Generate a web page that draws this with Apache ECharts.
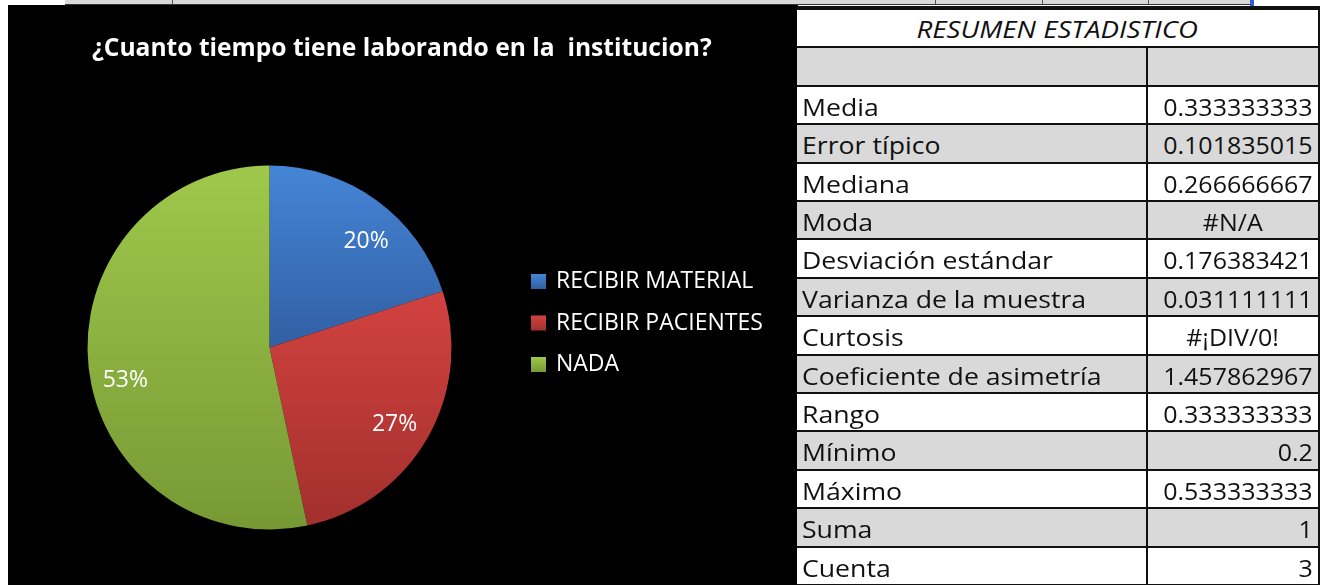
<!doctype html>
<html lang="es">
<head>
<meta charset="UTF-8">
<title>¿Cuanto tiempo tiene laborando en la institucion?</title>
<script src="https://cdn.jsdelivr.net/npm/echarts@6/dist/echarts.min.js"></script>
<style>
    html, body { margin: 0; padding: 0; background: #fff; width: 1324px; height: 585px; overflow: hidden; }
    #strip { position: absolute; left: 65px; top: 0; width: 1188px; height: 4px; background: #d9d9d9; border-bottom: 1px solid #333; }
    .sep { position: absolute; top: 0; width: 1px; height: 4px; background: #555; }
    #mark { position: absolute; left: 1250px; top: 0; width: 4px; height: 8px; background: #3a5bc7; }
    #main { position: absolute; left: 8px; top: 5px; width: 790px; height: 580px; }
    #topline { position: absolute; left: 797px; top: 6px; width: 523px; height: 4px; background: #111; }
    .row { position: absolute; left: 797px; width: 523px; height: 38.4px; box-sizing: border-box;
           border-bottom: 2px solid #111; border-right: 2px solid #111;
           font-family: "Open Sans", sans-serif; font-size: 24px; color: #111; line-height: 38px; white-space: nowrap; }
    .row.gris { background: #d9d9d9; }
    .row.blanco { background: #fff; }
    .lab { position: absolute; left: 5px; top: 1px; transform: scaleX(1.11); transform-origin: left center; }
    .val { position: absolute; left: 349px; top: 0; width: 172px; height: 100%; box-sizing: border-box;
           border-left: 2px solid #111; padding-right: 5px; text-align: right; }
    .val span { position: relative; top: 1px; display: inline-block; transform: scaleX(1.04); transform-origin: right center; }
    .val.err { text-align: center; padding-right: 0; }
    .val.err span { transform-origin: center center; }
    .head { text-align: center; font-style: italic; font-size: 23px; }
    .head span { display: inline-block; transform: scaleX(1.2); }
</style>
</head>
<body>
<div id="strip"></div>
<div id="mark"></div>
<div id="main"></div>
<div id="topline"></div>
<div id="stats"></div>
<script type="text/javascript">
    // datos del grafico
    var categorias = ['RECIBIR MATERIAL', 'RECIBIR PACIENTES', 'NADA'];
    var valores = [0.2, 0.266666667, 0.533333333];
    var coloresArriba = ['#4585d6', '#d2423f', '#9fc84b'];
    var coloresAbajo = ['#315fa3', '#a2302d', '#779935'];

    // resumen estadistico
    var tituloTabla = 'RESUMEN ESTADISTICO';
    var estadisticos = ['', 'Media', 'Error típico', 'Mediana', 'Moda', 'Desviación estándar',
        'Varianza de la muestra', 'Curtosis', 'Coeficiente de asimetría', 'Rango', 'Mínimo',
        'Máximo', 'Suma', 'Cuenta'];
    var valoresEst = ['', '0.333333333', '0.101835015', '0.266666667', '#N/A', '0.176383421',
        '0.031111111', '#¡DIV/0!', '1.457862967', '0.333333333', '0.2',
        '0.533333333', '1', '3'];

    // celdas de la hoja arriba
    var colCuts = [172, 935, 1042, 1148];
    var strip = document.getElementById('strip');
    for (var c of colCuts) {
        var s = document.createElement('div');
        s.className = 'sep';
        s.style.left = (c - 65) + 'px';
        strip.appendChild(s);
    }

    // tabla
    var alto = 38.4;
    var html = '<div class="row blanco head" style="top:10px"><span>' + tituloTabla + '</span></div>';
    for (var i = 0; i < estadisticos.length; i++) {
        var v = valoresEst[i];
        var fondo = (i % 2 == 0) ? 'gris' : 'blanco';
        var cls = v.charAt(0) == '#' ? 'val err' : 'val';
        html += '<div class="row ' + fondo + '" style="top:' + (10 + alto * (i + 1)) + 'px">' +
            '<span class="lab">' + estadisticos[i] + '</span>' +
            '<div class="' + cls + '"><span>' + v + '</span></div></div>';
    }
    document.getElementById('stats').innerHTML = html;

    var datos = [];
    for (var i = 0; i < categorias.length; i++) {
        datos.push({
            name: categorias[i],
            value: valores[i],
            itemStyle: {
                color: new echarts.graphic.LinearGradient(0, 0, 0, 1, [
                    { offset: 0, color: coloresArriba[i] },
                    { offset: 1, color: coloresAbajo[i] }
                ])
            }
        });
    }

    // pequeño corrimiento de las etiquetas como las pone Excel
    var ajusteEtiquetas = [[9, 14], [-4, 2], [4, 17]];

    var myChart = echarts.init(document.getElementById('main'));
    var option = {
        backgroundColor: '#000',
        animation: false,
        title: {
            text: '¿Cuanto tiempo tiene laborando en la  institucion?',
            left: 79,
            top: 26,
            textStyle: { color: '#fff', fontFamily: 'Open Sans', fontWeight: 'bold', fontSize: 24.6 }
        },
        legend: {
            orient: 'vertical',
            left: 518,
            top: 260,
            data: categorias,
            icon: 'rect',
            itemWidth: 15,
            itemHeight: 15,
            itemGap: 18.5,
            textStyle: { color: '#fff', fontFamily: 'Open Sans', fontSize: 23, padding: [0, 0, 0, 5] }
        },
        series: [
            {
                name: 'tiempo',
                type: 'pie',
                center: [261.5, 342.5],
                radius: [0, 182],
                startAngle: 90,
                label: { show: false },
                labelLine: { show: false },
                emphasis: { disabled: true },
                data: datos
            },
            {
                // anillo transparente solo para ubicar las etiquetas de porcentaje
                name: 'etiquetas',
                type: 'pie',
                center: [261.5, 342.5],
                radius: [110, 182],
                startAngle: 90,
                silent: true,
                percentPrecision: 0,
                itemStyle: { color: 'rgba(0,0,0,0)' },
                label: {
                    show: true,
                    position: 'inside',
                    formatter: '{d}%',
                    color: '#fff',
                    fontFamily: 'Open Sans',
                    fontSize: 23
                },
                labelLayout: function (p) {
                    var a = ajusteEtiquetas[p.dataIndex];
                    return { dx: a[0], dy: a[1] };
                },
                labelLine: { show: false },
                data: categorias.map(function (n, i) { return { name: n, value: valores[i] }; })
            }
        ]
    };
    myChart.setOption(option);
</script>
</body>
</html>
